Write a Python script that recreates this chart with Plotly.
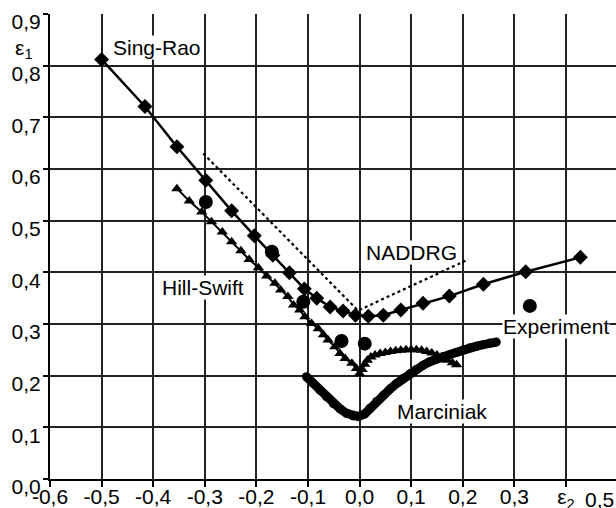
import plotly.graph_objects as go

# Sing-Rao (diamonds + line)
sr_x = [-0.500, -0.416, -0.354, -0.298, -0.248, -0.204, -0.168, -0.136, -0.107, -0.083, -0.057,
        -0.032, -0.008, 0.017, 0.046, 0.080, 0.123, 0.174, 0.240, 0.322, 0.428]
sr_y = [0.812, 0.721, 0.643, 0.578, 0.519, 0.471, 0.433, 0.399, 0.368, 0.350, 0.333,
        0.325, 0.317, 0.315, 0.317, 0.327, 0.340, 0.354, 0.377, 0.401, 0.429]

# Hill-Swift (triangles + line)
hs_x = [-0.354, -0.330, -0.306, -0.287, -0.266, -0.248, -0.230, -0.214, -0.196, -0.180, -0.164,
        -0.153, -0.139, -0.128, -0.116, -0.106, -0.093, -0.080, -0.070, -0.061, -0.048, -0.038,
        -0.028, -0.015, -0.006, 0.000, 0.005, 0.010, 0.015, 0.022, 0.030, 0.040, 0.050, 0.060,
        0.070, 0.080, 0.090, 0.100, 0.110, 0.120, 0.130, 0.140, 0.150, 0.160, 0.170, 0.180, 0.188]
hs_y = [0.562, 0.538, 0.517, 0.498, 0.478, 0.459, 0.442, 0.425, 0.409, 0.393, 0.379,
        0.366, 0.353, 0.337, 0.327, 0.314, 0.301, 0.291, 0.279, 0.269, 0.256, 0.243,
        0.233, 0.224, 0.214, 0.204, 0.212, 0.222, 0.230, 0.236, 0.240, 0.243, 0.245, 0.247,
        0.248, 0.249, 0.250, 0.250, 0.250, 0.249, 0.247, 0.244, 0.240, 0.235, 0.230, 0.225, 0.221]

# Marciniak (dense circles)
mc_x = [-0.103, -0.090, -0.077, -0.064, -0.051, -0.038, -0.025, -0.012, -0.002, 0.010, 0.020,
        0.033, 0.046, 0.059, 0.072, 0.085, 0.098, 0.110, 0.123, 0.136, 0.149, 0.162, 0.175,
        0.188, 0.201, 0.214, 0.227, 0.240, 0.253, 0.265]
mc_y = [0.198, 0.185, 0.172, 0.159, 0.146, 0.136, 0.127, 0.122, 0.121, 0.126, 0.137,
        0.150, 0.162, 0.174, 0.185, 0.195, 0.204, 0.212, 0.220, 0.227, 0.233, 0.237, 0.241,
        0.245, 0.250, 0.254, 0.257, 0.260, 0.263, 0.265]

# Experiment (circles)
ex_x = [-0.298, -0.170, -0.109, -0.035, 0.010, 0.330]
ex_y = [0.536, 0.440, 0.343, 0.267, 0.262, 0.335]

# NADDRG (dotted)
nd_x = [-0.303, -0.003, 0.211]
nd_y = [0.630, 0.326, 0.425]

x_ticks = [-0.6, -0.5, -0.4, -0.3, -0.2, -0.1, 0.0, 0.1, 0.2, 0.3, 0.4]
x_ticktext = ["-0,6", "-0,5", "-0,4", "-0,3", "-0,2", "-0,1", "0,0", "0,1", "0,2", "0,3", "ε<sub>2</sub>"]
y_ticks = [0.0, 0.1, 0.2, 0.3, 0.4, 0.5, 0.6, 0.7, 0.8, 0.9]

FONT = "Liberation Sans, Arial, sans-serif"

fig = go.Figure()
fig.add_trace(go.Scatter(x=nd_x, y=nd_y, mode="lines",
                         line=dict(color="black", width=2.2, dash="dot"), name="NADDRG"))
fig.add_trace(go.Scatter(x=hs_x, y=hs_y, mode="lines+markers",
                         line=dict(color="black", width=2),
                         marker=dict(symbol="triangle-up", size=10, color="black"), name="Hill-Swift"))
fig.add_trace(go.Scatter(x=mc_x, y=mc_y, mode="lines+markers",
                         line=dict(color="black", width=9),
                         marker=dict(symbol="circle", size=9, color="black"), name="Marciniak"))
fig.add_trace(go.Scatter(x=sr_x, y=sr_y, mode="lines+markers",
                         line=dict(color="black", width=2.5),
                         marker=dict(symbol="diamond", size=11.5, color="black"), name="Sing-Rao"))
fig.add_trace(go.Scatter(x=ex_x, y=ex_y, mode="markers",
                         marker=dict(symbol="circle", size=14, color="black"), name="Experiment"))

labels = [
    ("Sing-Rao", -0.393, 0.835),
    ("Hill-Swift", -0.303, 0.370),
    ("NADDRG", 0.100, 0.439),
    ("Experiment", 0.381, 0.296),
    ("Marciniak", 0.159, 0.130),
]
for txt, lx, ly in labels:
    fig.add_annotation(x=lx, y=ly, text=txt, showarrow=False, bgcolor="white",
                       font=dict(family=FONT, size=21, color="black"),
                       xanchor="center", yanchor="middle", borderpad=0)

fig.add_annotation(xref="paper", yref="y", x=-0.027, y=0.832, text="ε<sub>1</sub>",
                   showarrow=False, xanchor="right", yanchor="middle",
                   font=dict(family=FONT, size=21, color="black"))
fig.add_annotation(xref="paper", yref="paper", x=1.0, y=-0.045, text="0,5",
                   showarrow=False, xanchor="right", yanchor="middle",
                   font=dict(family=FONT, size=21, color="black"))

fig.update_layout(
    width=616, height=508,
    margin=dict(l=50, r=0, t=14, b=29, autoexpand=False),
    paper_bgcolor="white", plot_bgcolor="white",
    showlegend=False,
    separators=", ",
    font=dict(family=FONT, size=21, color="black"),
)
fig.update_xaxes(range=[-0.6, 0.497], tickvals=x_ticks, ticktext=x_ticktext,
                 showgrid=True, gridcolor="#222", gridwidth=1.5, zeroline=False,
                 showline=True, linecolor="black", linewidth=2, automargin=False,
                 ticks="outside", ticklen=6, tickwidth=1.5, tickcolor="black",
                 ticklabelstandoff=-8,
                 tickfont=dict(family=FONT, size=21, color="black"))
fig.update_yaxes(range=[0, 0.9], tickvals=y_ticks, tickformat=".1f",
                 showgrid=True, gridcolor="#222", gridwidth=1.5, zeroline=False,
                 showline=True, linecolor="black", linewidth=2, automargin=False,
                 ticks="outside", ticklen=5, tickwidth=1.5, tickcolor="black",
                 ticklabelshift=8, ticklabelstandoff=-2,
                 tickfont=dict(family=FONT, size=21, color="black"))

fig.write_html("out.html")
